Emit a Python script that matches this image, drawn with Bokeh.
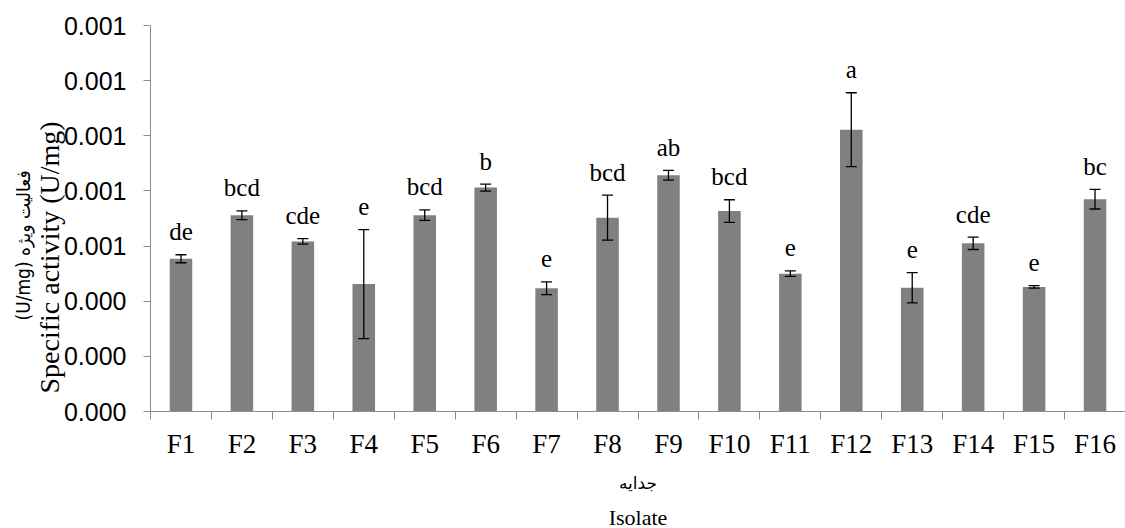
from bokeh.plotting import figure
from bokeh.models import (ColumnDataSource, Whisker, TeeHead, FixedTicker, Title,
                          PrintfTickFormatter, Range1d)
from bokeh.core.properties import value
from bokeh.embed import file_html
from bokeh.resources import INLINE

# ---- data ----
isolates = ["F1", "F2", "F3", "F4", "F5", "F6", "F7", "F8",
            "F9", "F10", "F11", "F12", "F13", "F14", "F15", "F16"]
activity = [0.000554, 0.000712, 0.000617, 0.000462, 0.000712, 0.000812, 0.000447, 0.000703,
            0.000857, 0.000727, 0.000500, 0.001022, 0.000449, 0.000610, 0.000452, 0.000770]
errors = [0.0000145, 0.0000160, 0.0000100, 0.000198, 0.0000190, 0.0000127, 0.0000230, 0.0000816,
          0.0000175, 0.0000410, 0.0000097, 0.000134, 0.0000550, 0.0000225, 0.0000044, 0.0000355]
letters = ["de", "bcd", "cde", "e", "bcd", "b", "e", "bcd",
           "ab", "bcd", "e", "a", "e", "cde", "e", "bc"]
y_ticks = [0.0, 0.0002, 0.0004, 0.0006, 0.0008, 0.0010, 0.0012, 0.0014]

n = len(isolates)
centers = [i + 0.5 for i in range(n)]
bounds = [float(i) for i in range(n + 1)]

src = ColumnDataSource(dict(
    x=centers,
    val=activity,
    upper=[v + e for v, e in zip(activity, errors)],
    lower=[v - e for v, e in zip(activity, errors)],
    lab=letters,
))

AXIS_GRAY = "#8c8c8c"

p = figure(frame_width=975, frame_height=386, output_backend="svg", toolbar_location=None,
           x_range=Range1d(0, n), y_range=Range1d(0, 0.0014),
           min_border_left=150, min_border_right=0, min_border_top=25, min_border_bottom=117)
p.outline_line_color = None
p.grid.visible = False
p.background_fill_color = "white"
p.border_fill_color = "white"

p.vbar(x="x", top="val", width=0.37, fill_color="#808080", line_color=None, source=src)

w = Whisker(base="x", upper="upper", lower="lower", source=src, level="annotation",
            line_color="black", line_width=1.3,
            upper_head=TeeHead(size=11, line_color="black", line_width=1.3),
            lower_head=TeeHead(size=11, line_color="black", line_width=1.3))
p.add_layout(w)

p.text(x="x", y="upper", text="lab", source=src, text_align="center",
       text_baseline="alphabetic", y_offset=-23,
       text_font=value("Liberation Serif"), text_font_size="25px", text_color="black")

# x axis: labels at centres, ticks at category boundaries
p.xaxis.ticker = FixedTicker(ticks=centers, minor_ticks=bounds)
p.xaxis.major_label_overrides = {c: name for c, name in zip(centers, isolates)}
p.xaxis.major_tick_line_color = None
p.xaxis.major_tick_out = 7
p.xaxis.major_tick_in = 0
p.xaxis.minor_tick_line_color = AXIS_GRAY
p.xaxis.minor_tick_out = 8
p.xaxis.minor_tick_in = 0
p.xaxis.axis_line_color = AXIS_GRAY
p.xaxis.major_label_text_font = "Liberation Serif"
p.xaxis.major_label_text_font_size = "27px"
p.xaxis.major_label_text_color = "black"
p.xaxis.major_label_standoff = 9

# y axis
p.yaxis.ticker = FixedTicker(ticks=y_ticks, minor_ticks=[])
p.yaxis.formatter = PrintfTickFormatter(format="%.3f")
p.yaxis.axis_line_color = AXIS_GRAY
p.yaxis.major_tick_line_color = AXIS_GRAY
p.yaxis.major_tick_out = 7
p.yaxis.major_tick_in = 0
p.yaxis.minor_tick_line_color = None
p.yaxis.major_label_text_font = "Liberation Sans"
p.yaxis.major_label_text_font_size = "25px"
p.yaxis.major_label_text_color = "black"
p.yaxis.major_label_standoff = 17

# axis titles as side-panel titles
p.add_layout(Title(text="Specific activity (U/mg)", align="left", offset=18, standoff=-8,
                   text_font="Liberation Serif", text_font_size="28px",
                   text_font_style="normal", text_color="black"), "left")
p.add_layout(Title(text="(U/mg) فعالیت ویژه", align="left", offset=91, standoff=3,
                   text_font="DejaVu Sans Condensed, DejaVu Sans", text_font_size="19px",
                   text_font_style="normal", text_color="black"), "left")
p.add_layout(Title(text="جدایه", align="center", offset=0, standoff=19,
                   text_font="DejaVu Sans", text_font_size="17px",
                   text_font_style="normal", text_color="black"), "below")
p.add_layout(Title(text="Isolate", align="center", offset=0, standoff=1,
                   text_font="Liberation Serif", text_font_size="22px",
                   text_font_style="normal", text_color="black"), "below")

open("out.html", "w").write(file_html(p, INLINE))
